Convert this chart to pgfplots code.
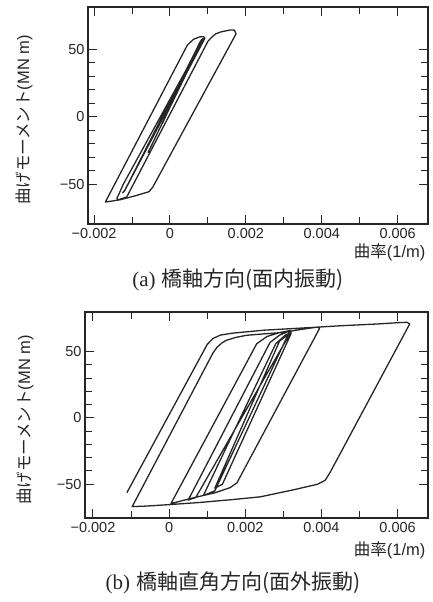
\documentclass[border=0pt]{standalone}
\usepackage{fontspec}
\setmainfont{Liberation Sans}
\newfontfamily\jp{Noto Sans CJK JP}
\newfontfamily\capserif{Liberation Serif}
\usepackage{pgfplots}
\pgfplotsset{compat=1.18}
\begin{document}
\begin{tikzpicture}
\path[use as bounding box] (0pt,0pt) rectangle (433pt,602pt);
\pgfplotsset{
  common/.style={
    scale only axis,
    axis line style={line width=1.4pt, black!85},
    every tick/.style={line width=1pt, black!85},
    major tick length=9pt, minor tick length=7pt,
    tick align=inside,
    tick pos=both, ticklabel pos=left,
    scaled x ticks=false, scaled y ticks=false,
    xtick={-0.002,0,0.002,0.004,0.006},
    xticklabels={−0.002,0,0.002,0.004,0.006},
    minor x tick num=1,
    ytick={-50,0,50},
    yticklabels={−50,0,50},
    minor y tick num=4,
    ticklabel style={font=\fontsize{14.5}{16}\selectfont, text=black!85},
    xticklabel style={yshift=-1pt},
    clip=false,
  },
  curve/.style={line width=1.3pt, black!85, no marks, line join=round},
}
\begin{axis}[common, at={(88pt,378pt)}, anchor=south west, width=340pt, height=217pt,
  xmin=-0.00216, xmax=0.0068, ymin=-79.5, ymax=81.5]
\addplot[curve] table[row sep=\\] {
x y\\
-0.00020 -5\\
0.00078 55\\
0.00084 57.5\\
0.00088 58\\
0.00084 56\\
-0.00123 -50\\
-0.00134 -57\\
-0.00140 -60.5\\
-0.00136 -61.5\\
-0.00114 -59.5\\
0.00100 56\\
0.00108 58.5\\
0.00120 61.5\\
0.00134 63\\
0.00160 64.5\\
0.00170 64.3\\
0.00174 61.5\\
-0.00045 -52\\
-0.00055 -55.5\\
-0.00090 -58.5\\
-0.00131 -61.5\\
-0.00160 -62.8\\
-0.00170 -63.2\\
-0.00168 -62\\
0.00046 53.3\\
0.00062 57.5\\
0.00078 59.3\\
0.00088 59.5\\
0.00092 58.3\\
-0.00118 -54\\
-0.00125 -56.5\\
-0.00120 -55\\
0.00078 54.5\\
0.00086 57\\
-0.00058 -26.6\\
};
\end{axis}
\begin{axis}[common, at={(85pt,84pt)}, anchor=south west, width=343pt, height=206pt,
  xmin=-0.00221, xmax=0.0068, ymin=-75.5, ymax=80]
\addplot[curve] table[row sep=\\] {
x y\\
-0.00111 -56.4\\
0.00100 55.5\\
0.00115 60\\
0.00135 62.6\\
0.00166 64.0\\
0.00250 66.3\\
0.00350 67.9\\
0.00450 69.6\\
0.00550 71.0\\
0.00605 72.0\\
0.00625 72.2\\
0.00632 71.0\\
0.00423 -41\\
0.00410 -47\\
0.00390 -50\\
0.00330 -54\\
0.00240 -59.5\\
0.00170 -61.5\\
0.00080 -63.8\\
0.00000 -65.4\\
-0.00060 -66.5\\
-0.00097 -66.9\\
0.00115 49\\
0.00126 53.4\\
0.00138 56.5\\
0.00150 58.6\\
0.00175 60.8\\
0.00203 62.4\\
0.00250 63.5\\
0.00297 64.5\\
0.00350 67.0\\
0.00390 68.6\\
0.00395 67.5\\
0.00178 -49\\
0.00160 -52.6\\
0.00120 -56.5\\
0.00060 -60.5\\
0.00020 -63.5\\
0.00005 -64.5\\
0.00230 56\\
0.00257 61.5\\
0.00290 64.5\\
0.00318 66\\
0.00320 65\\
0.00070 -60\\
0.00050 -62\\
0.00265 57\\
0.00290 62.5\\
0.00315 65.5\\
0.00315 64.5\\
0.00120 -55\\
0.00090 -58.5\\
0.00280 56\\
0.00305 62.5\\
0.00320 64.5\\
0.00320 63.5\\
0.00140 -50\\
0.00120 -53\\
0.00290 58\\
0.00310 62.5\\
};
\end{axis}
% labels
\node[rotate=90, font=\fontsize{16.5}{18}\selectfont, text=black!85] at (24pt,482pt) {{\jp 曲げモーメント}(MN m)};
\node[anchor=east, font=\fontsize{16.5}{18}\selectfont, text=black!85] at (429pt,350pt) {{\jp 曲率}(1/m)};
\node[font=\fontsize{21}{24}\selectfont, text=black!85] at (238pt,322pt) {{\capserif (a)}\ {\jp 橋軸方向(面内振動)}};
\node[rotate=90, font=\fontsize{16.5}{18}\selectfont, text=black!85] at (25pt,182pt) {{\jp 曲げモーメント}(MN m)};
\node[anchor=east, font=\fontsize{16.5}{18}\selectfont, text=black!85] at (429pt,52pt) {{\jp 曲率}(1/m)};
\node[font=\fontsize{21}{24}\selectfont, text=black!85] at (233pt,19pt) {{\capserif (b)}\ {\jp 橋軸直角方向(面外振動)}};
\end{tikzpicture}
\end{document}
